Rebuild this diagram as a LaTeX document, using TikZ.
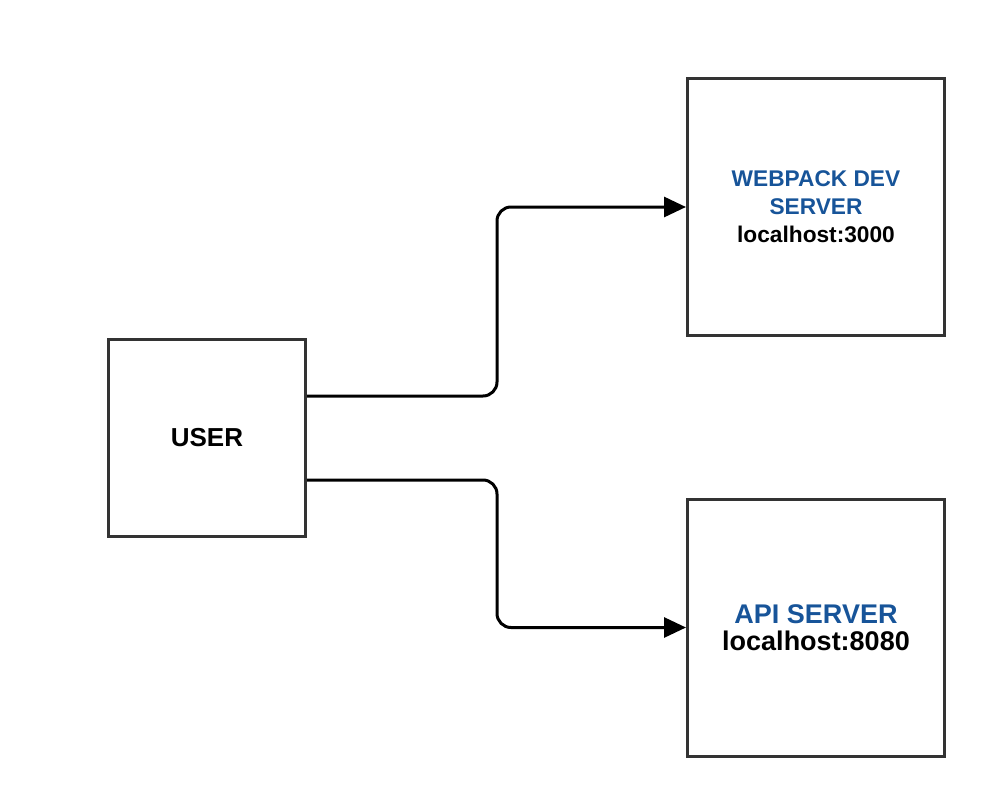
\documentclass[tikz,border=0pt]{standalone}
\usepackage{fontspec}
\setmainfont{Liberation Sans}
\usepackage{tikz}
\usetikzlibrary{arrows.meta,positioning}
\definecolor{boxgray}{rgb}{0.2, 0.2, 0.2}
\definecolor{srvblue}{rgb}{0.09, 0.33, 0.60}
\tikzstyle{box}=[rectangle, draw=boxgray, line width=3pt, align=center, font=\bfseries]
\tikzstyle{link}=[line width=3pt, rounded corners=14pt, -{Triangle[length=22pt,width=20pt]}]

\begin{document}
\begin{tikzpicture}[x=1pt, y=-1pt]

    % fix the page to the size of the picture
    \useasboundingbox (0,0) rectangle (997,795);

    % draw the three boxes
    \node[box, minimum width=197pt, minimum height=197pt, font=\bfseries\fontsize{26}{28}\selectfont] (user) at (207,438) {USER};
    \node[box, minimum width=257pt, minimum height=257pt, font=\bfseries\fontsize{22.7}{28}\selectfont] (webpack) at (816,207)
        {\textcolor{srvblue}{WEBPACK DEV}\\\textcolor{srvblue}{SERVER}\\localhost:3000};
    \node[box, minimum width=257pt, minimum height=257pt, font=\bfseries\fontsize{27}{27}\selectfont] (api) at (816,627.5)
        {\textcolor{srvblue}{API SERVER}\\localhost:8080};

    % connectors from the user to both servers
    \draw[link] ([yshift=42pt]user.east) -- ++(190,0) |- (webpack.west);
    \draw[link] ([yshift=-42pt]user.east) -- ++(190,0) |- (api.west);
  \end{tikzpicture}
\end{document}
